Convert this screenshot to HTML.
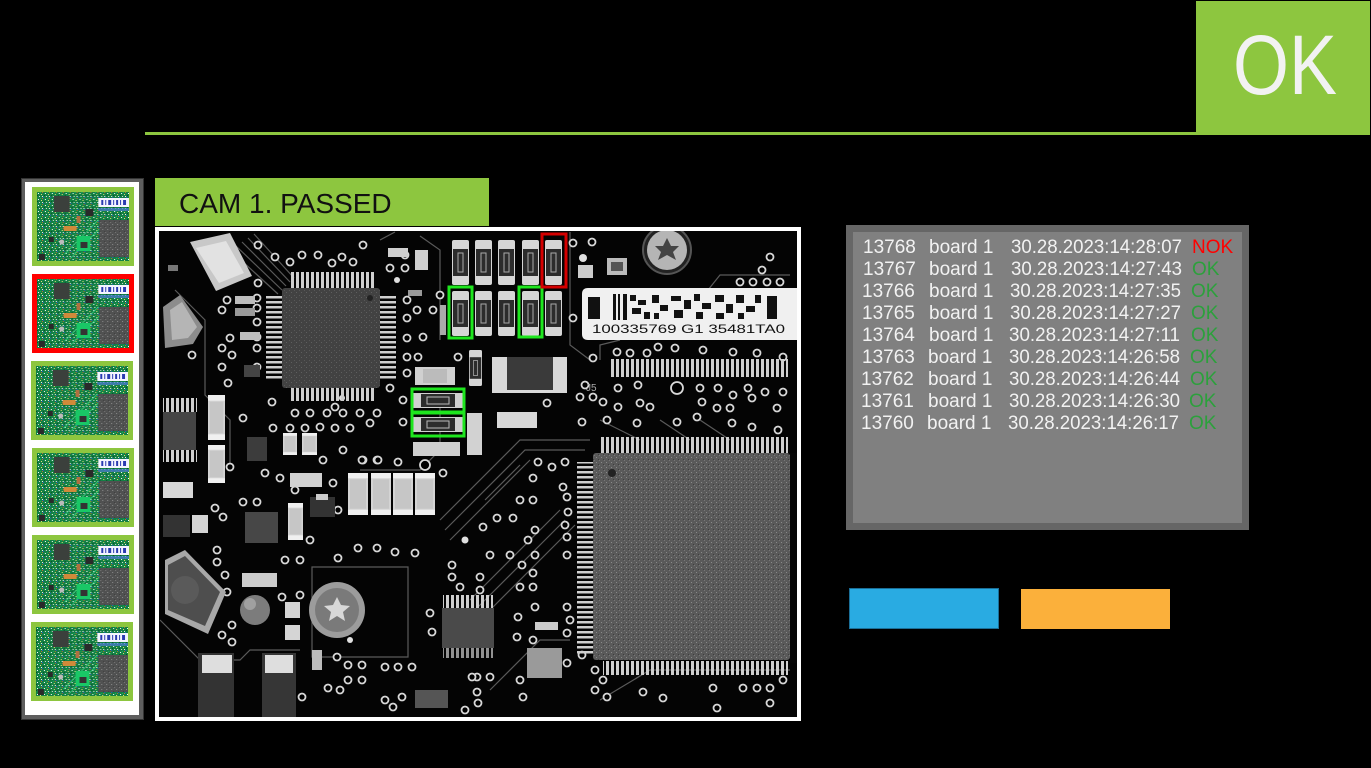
<!DOCTYPE html>
<html><head><meta charset="utf-8">
<style>
html,body{margin:0;padding:0;background:#000;}
body{width:1371px;height:768px;overflow:hidden;}
svg{display:block;}
text{font-family:"Liberation Sans",Arial,sans-serif;}
</style></head><body>
<svg width="1371" height="768" viewBox="0 0 1371 768" xmlns="http://www.w3.org/2000/svg">
<defs>
 <pattern id="speck" width="7" height="6" patternUnits="userSpaceOnUse">
   <rect x="1" y="1" width="1" height="1" fill="#fff"/>
   <rect x="4" y="2" width="1" height="1" fill="#e8e070"/>
   <rect x="2" y="4" width="1" height="1" fill="#ddd"/>
   <rect x="6" y="5" width="1" height="1" fill="#2255cc"/>
   <rect x="5" y="0" width="1" height="1" fill="#c07030"/>
   <rect x="0" y="3" width="1" height="1" fill="#0a4a28"/>
   <rect x="3" y="0" width="1" height="1" fill="#1ab060"/>
   <rect x="5" y="4" width="1" height="1" fill="#f4f4f4"/>
 </pattern>
 <pattern id="chipn" width="5" height="5" patternUnits="userSpaceOnUse">
   <rect x="1" y="2" width="1" height="1" fill="#8a8a8a"/>
   <rect x="3" y="4" width="1" height="1" fill="#3e3e3e"/>
   <rect x="4" y="0" width="1" height="1" fill="#777"/>
 </pattern>
 <pattern id="vstripe" width="5" height="10" patternUnits="userSpaceOnUse">
   <rect x="1" y="0" width="3" height="10" fill="#cfcfcf"/>
 </pattern>
 <pattern id="hstripe" width="10" height="5" patternUnits="userSpaceOnUse">
   <rect x="0" y="1" width="10" height="2.5" fill="#cfcfcf"/>
 </pattern>
 <symbol id="thumb" viewBox="0 0 93 69" preserveAspectRatio="none">
  <rect width="93" height="69" fill="#138044"/>
  <rect width="93" height="69" fill="url(#speck)"/>
  <path d="M28 62 L62 28 M34 66 L66 34" stroke="#38d07f" stroke-width="0.8" fill="none"/>
  <rect x="40" y="44" width="14" height="15" fill="#19c766"/>
  <rect x="17" y="4" width="16" height="16" fill="#3b403c"/>
  <rect x="62" y="6" width="31" height="9" fill="#f4f4ff"/>
  <path d="M65 8h2v5h-2z M69 8h1v5h-1z M72 8h3v5h-3z M77 8h1v5h-1z M80 8h2v5h-2z M84 8h1v5h-1z M87 8h3v5h-3z" fill="#2a3ab0"/>
  <rect x="62" y="16" width="31" height="3" fill="#4a7ad0" opacity=".7"/>
  <rect x="63" y="28" width="30" height="37" fill="#505151"/>
  <rect x="63" y="28" width="30" height="37" fill="url(#chipn)"/>
  <rect x="27" y="34" width="13" height="5" fill="#d08a3a"/>
  <rect x="49" y="17" width="8" height="7" fill="#2a2a2a"/>
  <rect x="2" y="62" width="6" height="6" fill="#2a2a2a"/>
  <rect x="12" y="45" width="5" height="5" fill="#2a2a2a"/>
  <rect x="44" y="50" width="7" height="6" fill="#333"/>
  <circle cx="25" cy="50" r="2.5" fill="#bbb"/>
  <rect x="40" y="24" width="4" height="7" fill="#b07040"/>
 </symbol>
 <symbol id="res" viewBox="0 0 17 45" preserveAspectRatio="none">
  <rect x="0" y="0" width="17" height="45" rx="2" fill="#d6d6d6"/>
  <rect x="1" y="9" width="15" height="27" fill="#2c2c2c"/>
  <rect x="6" y="13" width="5" height="19" fill="none" stroke="#aaa" stroke-width="1"/>
 </symbol>
 <symbol id="hres" viewBox="0 0 50 15" preserveAspectRatio="none">
  <rect width="50" height="15" fill="#d0d0d0"/>
  <rect x="8" y="1" width="34" height="13" fill="#2c2c2c"/>
  <rect x="14" y="4" width="22" height="7" fill="none" stroke="#bbb" stroke-width="1"/>
 </symbol>
 <symbol id="cap" viewBox="0 0 20 40" preserveAspectRatio="none">
  <rect width="20" height="40" fill="#d4d4d4"/>
  <rect x="0" y="0" width="20" height="5" fill="#f0f0f0"/>
  <rect x="0" y="35" width="20" height="5" fill="#f0f0f0"/>
  <rect x="2" y="6" width="16" height="28" fill="#c6c6c6"/>
 </symbol>
 <clipPath id="img"><rect x="159" y="231" width="638" height="486"/></clipPath>
</defs>

<!-- top line + OK -->
<rect x="145" y="132" width="1052" height="3" fill="#8dc63f"/>
<rect x="1196" y="1" width="174" height="134" fill="#8dc63f"/>
<text x="1233" y="94" font-size="84" fill="#f2f2f2" textLength="104" lengthAdjust="spacingAndGlyphs">OK</text>

<!-- left strip -->
<rect x="21" y="178" width="123" height="542" fill="#5e5e5e"/>
<rect x="21.5" y="178.5" width="122" height="541" fill="none" stroke="#333" stroke-width="1"/>
<rect x="25" y="182" width="114" height="533" fill="#fff"/>
<rect x="32" y="187" width="102" height="79" fill="#8dc63f"/><use href="#thumb" x="37" y="192" width="92" height="69"/>
<rect x="32" y="274" width="102" height="79" fill="#ff0000"/><use href="#thumb" x="37" y="279" width="92" height="69"/>
<rect x="31" y="361" width="102" height="79" fill="#8dc63f"/><use href="#thumb" x="36" y="366" width="92" height="69"/>
<rect x="32" y="448" width="102" height="79" fill="#8dc63f"/><use href="#thumb" x="37" y="453" width="92" height="69"/>
<rect x="32" y="535" width="102" height="79" fill="#8dc63f"/><use href="#thumb" x="37" y="540" width="92" height="69"/>
<rect x="31" y="622" width="102" height="79" fill="#8dc63f"/><use href="#thumb" x="36" y="627" width="92" height="69"/>

<!-- header -->
<rect x="155" y="178" width="334" height="48" fill="#8dc63f"/>
<text x="179" y="213" font-size="28" fill="#111">CAM 1. PASSED</text>

<!-- image frame -->
<rect x="155" y="227" width="646" height="494" fill="#fff"/>
<rect x="159" y="231" width="638" height="486" fill="#040404"/>

<g clip-path="url(#img)">
 <!-- traces -->
 <g stroke="#5a5a5a" stroke-width="1.2" fill="none">
  <path d="M236 246 L282 290 M242 242 L286 286 M248 238 L290 282 M254 234 L294 278 M230 250 L278 294"/>
  <path d="M175 290 L205 320 L205 395 L230 420 L230 470"/>
  <path d="M380 240 L395 232 M420 236 L440 250 L440 340"/>
  <path d="M440 520 L520 440 L590 440 M445 530 L525 450 L585 450 M450 540 L530 460"/>
  <path d="M470 600 L560 510 M475 610 L565 520 M480 620 L575 525"/>
  <path d="M600 700 L650 670 L790 670"/>
  <path d="M312 567 L408 567 L408 657 L312 657 Z"/>
  <path d="M360 470 L420 470 L440 450 L440 400"/>
  <path d="M600 360 L600 345 L620 340 M700 300 L720 275 L790 275"/>
  <path d="M570 232 L570 345 L590 360"/>
  <path d="M160 620 L200 660 L240 660 L250 650 L300 650"/>
  <path d="M485 500 L520 465 M490 690 L540 640 L570 640"/>
  <path d="M600 420 L640 440 M660 420 L690 440 M700 420 L730 440"/>
 </g>
 <!-- vias -->
 <g fill="#000" stroke="#d8d8d8" stroke-width="1.8">
  <circle cx="258" cy="245" r="3.5"/><circle cx="275" cy="257" r="3.5"/><circle cx="290" cy="262" r="3.5"/><circle cx="302" cy="255" r="3.5"/><circle cx="318" cy="255" r="3.5"/><circle cx="332" cy="263" r="3.5"/><circle cx="342" cy="257" r="3.5"/><circle cx="363" cy="245" r="3.5"/><circle cx="353" cy="262" r="3.5"/><circle cx="258" cy="283" r="3.5"/><circle cx="227" cy="300" r="3.5"/><circle cx="257" cy="298" r="3.5"/><circle cx="222" cy="310" r="3.5"/><circle cx="257" cy="308" r="3.5"/><circle cx="257" cy="322" r="3.5"/><circle cx="230" cy="338" r="3.5"/><circle cx="257" cy="337" r="3.5"/><circle cx="222" cy="348" r="3.5"/><circle cx="232" cy="355" r="3.5"/><circle cx="257" cy="348" r="3.5"/><circle cx="222" cy="367" r="3.5"/><circle cx="228" cy="383" r="3.5"/><circle cx="257" cy="367" r="3.5"/><circle cx="192" cy="355" r="3.5"/><circle cx="407" cy="300" r="3.5"/><circle cx="417" cy="310" r="3.5"/><circle cx="433" cy="310" r="3.5"/><circle cx="407" cy="318" r="3.5"/><circle cx="407" cy="338" r="3.5"/><circle cx="423" cy="337" r="3.5"/><circle cx="407" cy="357" r="3.5"/><circle cx="418" cy="357" r="3.5"/><circle cx="458" cy="357" r="3.5"/><circle cx="407" cy="373" r="3.5"/><circle cx="390" cy="388" r="3.5"/><circle cx="390" cy="268" r="3.5"/><circle cx="405" cy="268" r="3.5"/><circle cx="335" cy="407" r="3.5"/><circle cx="272" cy="402" r="3.5"/><circle cx="243" cy="418" r="3.5"/><circle cx="295" cy="413" r="3.5"/><circle cx="310" cy="413" r="3.5"/><circle cx="327" cy="413" r="3.5"/><circle cx="343" cy="413" r="3.5"/><circle cx="360" cy="413" r="3.5"/><circle cx="377" cy="413" r="3.5"/><circle cx="273" cy="428" r="3.5"/><circle cx="290" cy="428" r="3.5"/><circle cx="305" cy="428" r="3.5"/><circle cx="320" cy="427" r="3.5"/><circle cx="335" cy="428" r="3.5"/><circle cx="350" cy="428" r="3.5"/><circle cx="370" cy="423" r="3.5"/><circle cx="403" cy="400" r="3.5"/><circle cx="403" cy="422" r="3.5"/><circle cx="323" cy="460" r="3.5"/><circle cx="343" cy="450" r="3.5"/><circle cx="363" cy="460" r="3.5"/><circle cx="377" cy="460" r="3.5"/>
  <circle cx="405" cy="255" r="3.5"/><circle cx="573" cy="243" r="3.5"/><circle cx="592" cy="242" r="3.5"/><circle cx="440" cy="295" r="3.5"/><circle cx="573" cy="318" r="3.5"/><circle cx="770" cy="257" r="3.5"/><circle cx="762" cy="270" r="3.5"/><circle cx="740" cy="282" r="3.5"/><circle cx="753" cy="282" r="3.5"/><circle cx="767" cy="282" r="3.5"/><circle cx="780" cy="282" r="3.5"/><circle cx="617" cy="352" r="3.5"/><circle cx="630" cy="353" r="3.5"/><circle cx="647" cy="353" r="3.5"/><circle cx="658" cy="347" r="3.5"/><circle cx="675" cy="348" r="3.5"/><circle cx="703" cy="350" r="3.5"/><circle cx="733" cy="352" r="3.5"/><circle cx="757" cy="353" r="3.5"/><circle cx="783" cy="357" r="3.5"/><circle cx="593" cy="358" r="3.5"/><circle cx="585" cy="385" r="3.5"/><circle cx="580" cy="397" r="3.5"/><circle cx="593" cy="397" r="3.5"/><circle cx="603" cy="402" r="3.5"/><circle cx="618" cy="388" r="3.5"/><circle cx="638" cy="385" r="3.5"/><circle cx="640" cy="403" r="3.5"/><circle cx="618" cy="407" r="3.5"/><circle cx="650" cy="407" r="3.5"/><circle cx="677" cy="388" r="6"/><circle cx="700" cy="388" r="3.5"/><circle cx="718" cy="388" r="3.5"/><circle cx="733" cy="395" r="3.5"/><circle cx="730" cy="408" r="3.5"/><circle cx="748" cy="388" r="3.5"/><circle cx="752" cy="398" r="3.5"/><circle cx="765" cy="392" r="3.5"/><circle cx="783" cy="392" r="3.5"/><circle cx="777" cy="408" r="3.5"/><circle cx="702" cy="402" r="3.5"/><circle cx="717" cy="408" r="3.5"/><circle cx="697" cy="417" r="3.5"/><circle cx="677" cy="422" r="3.5"/><circle cx="637" cy="423" r="3.5"/><circle cx="582" cy="422" r="3.5"/><circle cx="607" cy="420" r="3.5"/><circle cx="752" cy="427" r="3.5"/><circle cx="778" cy="430" r="3.5"/><circle cx="732" cy="423" r="3.5"/><circle cx="547" cy="403" r="3.5"/><circle cx="443" cy="473" r="3.5"/>
  <circle cx="538" cy="462" r="3.5"/><circle cx="552" cy="467" r="3.5"/><circle cx="565" cy="462" r="3.5"/><circle cx="533" cy="478" r="3.5"/><circle cx="563" cy="487" r="3.5"/><circle cx="520" cy="500" r="3.5"/><circle cx="533" cy="500" r="3.5"/><circle cx="567" cy="497" r="3.5"/><circle cx="568" cy="512" r="3.5"/><circle cx="497" cy="518" r="3.5"/><circle cx="513" cy="518" r="3.5"/><circle cx="483" cy="527" r="3.5"/><circle cx="535" cy="530" r="3.5"/><circle cx="565" cy="525" r="3.5"/><circle cx="567" cy="537" r="3.5"/><circle cx="528" cy="540" r="3.5"/><circle cx="490" cy="555" r="3.5"/><circle cx="510" cy="555" r="3.5"/><circle cx="535" cy="555" r="3.5"/><circle cx="567" cy="555" r="3.5"/><circle cx="522" cy="565" r="3.5"/><circle cx="533" cy="573" r="3.5"/><circle cx="480" cy="577" r="3.5"/><circle cx="520" cy="587" r="3.5"/><circle cx="533" cy="587" r="3.5"/><circle cx="535" cy="607" r="3.5"/><circle cx="567" cy="607" r="3.5"/><circle cx="570" cy="620" r="3.5"/><circle cx="518" cy="617" r="3.5"/><circle cx="517" cy="637" r="3.5"/><circle cx="533" cy="640" r="3.5"/><circle cx="567" cy="633" r="3.5"/><circle cx="567" cy="663" r="3.5"/><circle cx="582" cy="655" r="3.5"/><circle cx="477" cy="677" r="3.5"/><circle cx="490" cy="677" r="3.5"/><circle cx="520" cy="680" r="3.5"/><circle cx="595" cy="670" r="3.5"/><circle cx="603" cy="680" r="3.5"/><circle cx="595" cy="690" r="3.5"/><circle cx="607" cy="697" r="3.5"/><circle cx="643" cy="692" r="3.5"/><circle cx="663" cy="698" r="3.5"/><circle cx="713" cy="688" r="3.5"/><circle cx="743" cy="688" r="3.5"/><circle cx="757" cy="688" r="3.5"/><circle cx="770" cy="688" r="3.5"/><circle cx="783" cy="680" r="3.5"/><circle cx="770" cy="703" r="3.5"/><circle cx="717" cy="708" r="3.5"/><circle cx="523" cy="697" r="3.5"/>
  <circle cx="230" cy="467" r="3.5"/><circle cx="265" cy="473" r="3.5"/><circle cx="280" cy="478" r="3.5"/><circle cx="295" cy="490" r="3.5"/><circle cx="333" cy="483" r="3.5"/><circle cx="362" cy="460" r="3.5"/><circle cx="378" cy="460" r="3.5"/><circle cx="398" cy="462" r="3.5"/><circle cx="215" cy="508" r="3.5"/><circle cx="223" cy="517" r="3.5"/><circle cx="243" cy="502" r="3.5"/><circle cx="257" cy="502" r="3.5"/><circle cx="338" cy="510" r="3.5"/><circle cx="310" cy="540" r="3.5"/><circle cx="358" cy="548" r="3.5"/><circle cx="377" cy="548" r="3.5"/><circle cx="395" cy="552" r="3.5"/><circle cx="415" cy="553" r="3.5"/><circle cx="338" cy="558" r="3.5"/><circle cx="217" cy="550" r="3.5"/><circle cx="217" cy="562" r="3.5"/><circle cx="225" cy="575" r="3.5"/><circle cx="227" cy="592" r="3.5"/><circle cx="232" cy="625" r="3.5"/><circle cx="232" cy="642" r="3.5"/><circle cx="222" cy="635" r="3.5"/><circle cx="282" cy="597" r="3.5"/><circle cx="300" cy="595" r="3.5"/><circle cx="285" cy="560" r="3.5"/><circle cx="300" cy="560" r="3.5"/><circle cx="425" cy="465" r="5"/><circle cx="452" cy="565" r="3.5"/><circle cx="452" cy="577" r="3.5"/><circle cx="480" cy="590" r="3.5"/><circle cx="460" cy="587" r="3.5"/><circle cx="432" cy="632" r="3.5"/><circle cx="430" cy="613" r="3.5"/><circle cx="337" cy="657" r="3.5"/><circle cx="348" cy="665" r="3.5"/><circle cx="362" cy="665" r="3.5"/><circle cx="385" cy="667" r="3.5"/><circle cx="398" cy="667" r="3.5"/><circle cx="412" cy="667" r="3.5"/><circle cx="348" cy="680" r="3.5"/><circle cx="362" cy="680" r="3.5"/><circle cx="328" cy="688" r="3.5"/><circle cx="340" cy="690" r="3.5"/><circle cx="302" cy="697" r="3.5"/><circle cx="385" cy="700" r="3.5"/><circle cx="393" cy="707" r="3.5"/><circle cx="402" cy="697" r="3.5"/><circle cx="472" cy="677" r="3.5"/><circle cx="477" cy="692" r="3.5"/><circle cx="478" cy="703" r="3.5"/><circle cx="465" cy="710" r="3.5"/>
 </g>
 <!-- solid dots -->
 <g fill="#e0e0e0">
  <circle cx="397" cy="280" r="3"/><circle cx="465" cy="540" r="3.5"/><circle cx="342" cy="398" r="3"/><circle cx="350" cy="640" r="3"/><circle cx="583" cy="258" r="4"/>
 </g>

 <!-- left top components -->
 <polygon points="190,242 230,233 252,276 216,291" fill="#c8c8c8"/>
 <polygon points="196,248 226,241 244,273 219,283" fill="#e2e2e2"/>
 <polygon points="163,307 180,295 203,327 193,344 165,348" fill="#8c8c8c"/>
 <polygon points="170,310 182,302 197,327 188,338 172,340" fill="#b5b5b5"/>
 <rect x="168" y="265" width="10" height="6" fill="#777"/>
 <!-- QFP -->
 <rect x="290" y="272" width="84" height="16" fill="url(#vstripe)"/>
 <rect x="290" y="388" width="84" height="13" fill="url(#vstripe)"/>
 <rect x="266" y="295" width="16" height="86" fill="url(#hstripe)"/>
 <rect x="380" y="295" width="16" height="86" fill="url(#hstripe)"/>
 <rect x="282" y="288" width="98" height="100" rx="3" fill="#424242"/>
 <rect x="282" y="288" width="98" height="100" rx="3" fill="url(#chipn)" opacity=".4"/>
 <circle cx="370" cy="298" r="3" fill="#222"/>
 <!-- small comps around QFP -->
 <rect x="388" y="248" width="20" height="9" fill="#cfcfcf"/>
 <rect x="415" y="250" width="13" height="20" fill="#cfcfcf"/>
 <rect x="235" y="296" width="20" height="8" fill="#bdbdbd"/>
 <rect x="235" y="308" width="20" height="8" fill="#9a9a9a"/>
 <rect x="240" y="332" width="20" height="8" fill="#bdbdbd"/>
 <rect x="244" y="365" width="16" height="12" fill="#444"/>
 <rect x="408" y="290" width="14" height="6" fill="#999"/>
 <rect x="440" y="305" width="6" height="30" fill="#aaa"/>

 <!-- resistor rows -->
 <use href="#res" x="452" y="240" width="17" height="45"/>
 <use href="#res" x="475" y="240" width="17" height="45"/>
 <use href="#res" x="498" y="240" width="17" height="45"/>
 <use href="#res" x="522" y="240" width="17" height="45"/>
 <use href="#res" x="545" y="240" width="17" height="45"/>
 <use href="#res" x="452" y="291" width="17" height="45"/>
 <use href="#res" x="475" y="291" width="17" height="45"/>
 <use href="#res" x="498" y="291" width="17" height="45"/>
 <use href="#res" x="522" y="291" width="17" height="45"/>
 <use href="#res" x="545" y="291" width="17" height="45"/>

 <!-- mid components -->
 <rect x="415" y="367" width="40" height="18" fill="#d0d0d0"/><rect x="423" y="369" width="24" height="14" fill="#bbb"/>
 <use href="#res" x="469" y="350" width="13" height="36"/>
 <rect x="492" y="357" width="75" height="36" fill="#d8d8d8"/>
 <rect x="507" y="357" width="46" height="33" fill="#3a3a3a"/>
 <use href="#hres" x="413" y="393" width="50" height="15"/>
 <use href="#hres" x="413" y="417" width="50" height="15"/>
 <rect x="467" y="413" width="15" height="42" fill="#d2d2d2"/>
 <rect x="497" y="412" width="40" height="16" fill="#d8d8d8"/>
 <rect x="413" y="442" width="47" height="14" fill="#cfcfcf"/>
 <rect x="578" y="265" width="15" height="13" fill="#ccc"/>
 <rect x="607" y="258" width="20" height="17" fill="#bbb"/><rect x="611" y="262" width="12" height="9" fill="#555"/>

 <!-- top screw -->
 <circle cx="667" cy="250" r="24" fill="#222" stroke="#555" stroke-width="2"/>
 <circle cx="667" cy="250" r="20" fill="#b5b5b5"/>
 <path d="M667 238 L671 246 L679 246 L673 252 L676 260 L667 255 L658 260 L661 252 L655 246 L663 246 Z" fill="#444"/>

 <!-- barcode label -->
 <path d="M588 288 L797 288 L797 340 L588 340 Q582 340 582 334 L582 294 Q582 288 588 288 Z" fill="#f0f0f0"/>
 <rect x="588" y="297" width="12" height="22" fill="#111"/>
 <rect x="767" y="296" width="10" height="23" fill="#111"/>
 <g fill="#111">
  <rect x="613" y="294" width="3" height="26"/><rect x="618" y="294" width="2" height="26"/><rect x="623" y="294" width="4" height="26"/>
  <rect x="630" y="295" width="6" height="6"/><rect x="638" y="300" width="8" height="5"/><rect x="632" y="308" width="9" height="6"/><rect x="644" y="312" width="6" height="7"/>
  <rect x="652" y="295" width="7" height="8"/><rect x="660" y="305" width="8" height="6"/><rect x="654" y="313" width="5" height="6"/>
  <rect x="671" y="296" width="10" height="5"/><rect x="684" y="300" width="7" height="9"/><rect x="674" y="310" width="9" height="8"/>
  <rect x="694" y="294" width="6" height="7"/><rect x="702" y="303" width="9" height="6"/><rect x="696" y="312" width="7" height="7"/>
  <rect x="715" y="295" width="9" height="7"/><rect x="726" y="304" width="7" height="9"/><rect x="716" y="313" width="8" height="6"/>
  <rect x="736" y="295" width="8" height="8"/><rect x="746" y="306" width="9" height="6"/><rect x="738" y="313" width="6" height="6"/><rect x="755" y="295" width="6" height="8"/>
 </g>
 <text x="592" y="333" font-family="Liberation Mono,monospace" font-size="12" fill="#111" textLength="193" lengthAdjust="spacingAndGlyphs">100335769    G1  35481TA0</text>

 <!-- J5 header -->
 <rect x="610" y="359" width="178" height="18" fill="url(#vstripe)"/>
 <text x="586" y="391" font-size="10" fill="#aaa">J5</text>

 <!-- left lower components -->
 <rect x="163" y="398" width="34" height="14" fill="url(#vstripe)"/>
 <rect x="163" y="412" width="33" height="38" fill="#454545"/>
 <rect x="163" y="450" width="34" height="12" fill="url(#vstripe)"/>
 <use href="#cap" x="208" y="395" width="17" height="45"/>
 <use href="#cap" x="208" y="445" width="17" height="38"/>
 <use href="#cap" x="283" y="433" width="14" height="22"/>
 <use href="#cap" x="302" y="433" width="15" height="22"/>
 <rect x="247" y="437" width="20" height="24" fill="#3c3c3c"/>
 <rect x="163" y="482" width="30" height="16" fill="#d8d8d8"/>
 <use href="#cap" x="348" y="473" width="20" height="42"/>
 <use href="#cap" x="371" y="473" width="20" height="42"/>
 <use href="#cap" x="393" y="473" width="20" height="42"/>
 <use href="#cap" x="415" y="473" width="20" height="42"/>
 <use href="#cap" x="288" y="503" width="15" height="37"/>
 <rect x="290" y="473" width="32" height="14" fill="#d2d2d2"/>
 <rect x="245" y="512" width="33" height="31" fill="#474747"/>
 <rect x="310" y="497" width="25" height="20" fill="#333"/><rect x="316" y="494" width="12" height="6" fill="#ccc"/>
 <rect x="163" y="515" width="27" height="22" fill="#333"/>
 <rect x="192" y="515" width="16" height="18" fill="#d5d5d5"/>
 <rect x="242" y="573" width="35" height="14" fill="#ccc"/>
 <rect x="285" y="602" width="15" height="16" fill="#d5d5d5"/>
 <rect x="285" y="625" width="15" height="15" fill="#d5d5d5"/>
 <rect x="312" y="650" width="10" height="20" fill="#bbb"/>
 <!-- inductor -->
 <polygon points="165,560 185,550 226,592 208,634 165,614" fill="#a8a8a8"/>
 <polygon points="168,565 185,556 220,592 205,626 168,610" fill="#4e4e4e"/>
 <circle cx="185" cy="590" r="14" fill="#5a5a5a"/>
 <!-- ball -->
 <circle cx="255" cy="610" r="15" fill="#7c7c7c"/>
 <circle cx="250" cy="604" r="6" fill="#a0a0a0"/>
 <!-- bottom screw -->
 <circle cx="337" cy="610" r="28" fill="#9c9c9c"/>
 <circle cx="337" cy="610" r="22" fill="#7a7a7a"/>
 <path d="M337 597 L341 605 L350 606 L343 612 L345 621 L337 616 L329 621 L331 612 L324 606 L333 605 Z" fill="#d8d8d8"/>
 <!-- bottom tall comps -->
 <rect x="198" y="653" width="36" height="70" fill="#333"/>
 <rect x="202" y="655" width="30" height="18" fill="#dedede"/>
 <rect x="262" y="653" width="34" height="70" fill="#363636"/>
 <rect x="265" y="655" width="28" height="18" fill="#dedede"/>
 <!-- SOIC -->
 <rect x="443" y="595" width="50" height="16" fill="url(#vstripe)"/>
 <rect x="442" y="608" width="52" height="40" fill="#4a4a4a"/>
 <rect x="443" y="648" width="50" height="10" fill="url(#vstripe)" opacity=".7"/>
 <!-- small chip near big chip -->
 <rect x="527" y="648" width="35" height="30" fill="#9a9a9a"/>
 <rect x="535" y="622" width="23" height="8" fill="#ccc"/>
 <rect x="415" y="690" width="33" height="18" fill="#555"/>

 <!-- big chip -->
 <rect x="600" y="437" width="188" height="16" fill="url(#vstripe)"/>
 <rect x="577" y="462" width="16" height="192" fill="url(#hstripe)"/>
 <rect x="603" y="661" width="185" height="14" fill="url(#vstripe)"/>
 <rect x="593" y="453" width="197" height="207" rx="3" fill="#5a5a5a"/>
 <rect x="593" y="453" width="197" height="207" rx="3" fill="url(#chipn)"/>
 <circle cx="612" cy="473" r="4" fill="#222"/>
 <rect x="790" y="453" width="7" height="210" fill="#060606"/>
</g>

<!-- green/red inspection boxes -->
<g fill="none" stroke-width="3">
 <rect x="449" y="287" width="23" height="51" stroke="#1ee61e"/>
 <rect x="519" y="287" width="23" height="50" stroke="#1ee61e"/>
 <rect x="542" y="234" width="24" height="53" stroke="#d40000"/>
 <rect x="412" y="389" width="52" height="23" stroke="#1ee61e"/>
 <rect x="412" y="413" width="52" height="23" stroke="#1ee61e"/>
</g>

<!-- log panel -->
<rect x="846" y="225" width="403" height="305" fill="#666"/>
<rect x="853" y="232" width="389" height="291" fill="#808080"/>
<g font-size="19" fill="#f2f2f2">
 <text x="863" y="253">13768</text><text x="929" y="253">board 1</text><text x="1011" y="253" textLength="171" lengthAdjust="spacingAndGlyphs">30.28.2023:14:28:07</text>
 <text x="863" y="275">13767</text><text x="929" y="275">board 1</text><text x="1011" y="275" textLength="171" lengthAdjust="spacingAndGlyphs">30.28.2023:14:27:43</text>
 <text x="862" y="297">13766</text><text x="929" y="297">board 1</text><text x="1010" y="297" textLength="171" lengthAdjust="spacingAndGlyphs">30.28.2023:14:27:35</text>
 <text x="862" y="319">13765</text><text x="929" y="319">board 1</text><text x="1010" y="319" textLength="171" lengthAdjust="spacingAndGlyphs">30.28.2023:14:27:27</text>
 <text x="862" y="341">13764</text><text x="929" y="341">board 1</text><text x="1009" y="341" textLength="171" lengthAdjust="spacingAndGlyphs">30.28.2023:14:27:11</text>
 <text x="862" y="363">13763</text><text x="928" y="363">board 1</text><text x="1009" y="363" textLength="171" lengthAdjust="spacingAndGlyphs">30.28.2023:14:26:58</text>
 <text x="861" y="385">13762</text><text x="928" y="385">board 1</text><text x="1009" y="385" textLength="171" lengthAdjust="spacingAndGlyphs">30.28.2023:14:26:44</text>
 <text x="861" y="407">13761</text><text x="928" y="407">board 1</text><text x="1009" y="407" textLength="171" lengthAdjust="spacingAndGlyphs">30.28.2023:14:26:30</text>
 <text x="861" y="429">13760</text><text x="927" y="429">board 1</text><text x="1008" y="429" textLength="171" lengthAdjust="spacingAndGlyphs">30.28.2023:14:26:17</text>
</g>
<g font-size="19">
 <text x="1192" y="253" fill="#ff0000">NOK</text>
 <text x="1192" y="275" fill="#2ca03c">OK</text>
 <text x="1191" y="297" fill="#2ca03c">OK</text>
 <text x="1191" y="319" fill="#2ca03c">OK</text>
 <text x="1191" y="341" fill="#2ca03c">OK</text>
 <text x="1190" y="363" fill="#2ca03c">OK</text>
 <text x="1190" y="385" fill="#2ca03c">OK</text>
 <text x="1189" y="407" fill="#2ca03c">OK</text>
 <text x="1189" y="429" fill="#2ca03c">OK</text>
</g>

<!-- buttons -->
<rect x="849.5" y="588.5" width="149" height="40" fill="#29abe2" stroke="#1b6f98" stroke-width="1"/>
<rect x="1021" y="589" width="149" height="40" fill="#fbb03b"/>
</svg>
</body></html>
